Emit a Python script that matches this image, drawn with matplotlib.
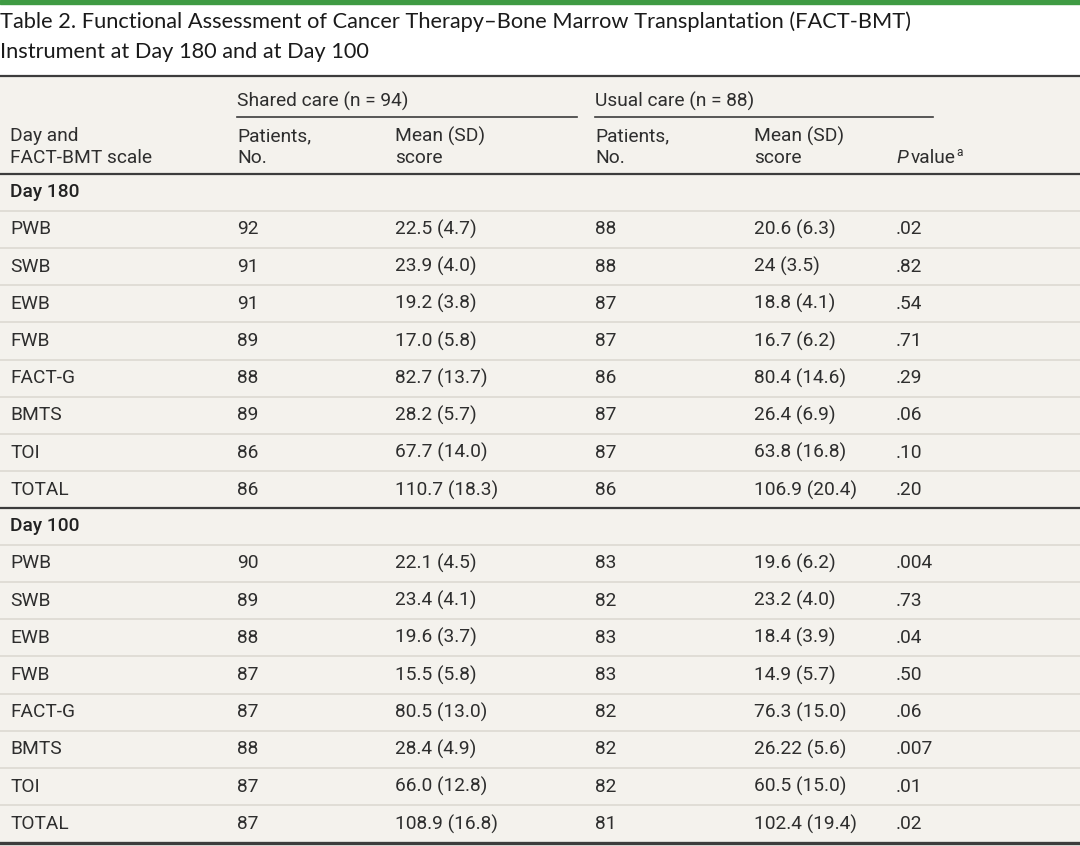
#!/usr/bin/env python3
"""Table 2 (FACT-BMT at day 180 and day 100) redrawn as a matplotlib figure."""
import matplotlib
matplotlib.use("Agg")
import matplotlib.pyplot as plt
from matplotlib.patches import Rectangle

TITLE_1 = "Table 2. Functional Assessment of Cancer Therapy\u2013Bone Marrow Transplantation (FACT-BMT)"
TITLE_2 = "Instrument at Day 180 and at Day 100"

groups = ["Shared care (n = 94)", "Usual care (n = 88)"]
scales = ["PWB", "SWB", "EWB", "FWB", "FACT-G", "BMTS", "TOI", "TOTAL"]

day180_shared_n = ["92", "91", "91", "89", "88", "89", "86", "86"]
day180_shared_mean = ["22.5 (4.7)", "23.9 (4.0)", "19.2 (3.8)", "17.0 (5.8)",
                      "82.7 (13.7)", "28.2 (5.7)", "67.7 (14.0)", "110.7 (18.3)"]
day180_usual_n = ["88", "88", "87", "87", "86", "87", "87", "86"]
day180_usual_mean = ["20.6 (6.3)", "24 (3.5)", "18.8 (4.1)", "16.7 (6.2)",
                     "80.4 (14.6)", "26.4 (6.9)", "63.8 (16.8)", "106.9 (20.4)"]
day180_p = [".02", ".82", ".54", ".71", ".29", ".06", ".10", ".20"]

day100_shared_n = ["90", "89", "88", "87", "87", "88", "87", "87"]
day100_shared_mean = ["22.1 (4.5)", "23.4 (4.1)", "19.6 (3.7)", "15.5 (5.8)",
                      "80.5 (13.0)", "28.4 (4.9)", "66.0 (12.8)", "108.9 (16.8)"]
day100_usual_n = ["83", "82", "83", "83", "82", "82", "82", "81"]
day100_usual_mean = ["19.6 (6.2)", "23.2 (4.0)", "18.4 (3.9)", "14.9 (5.7)",
                     "76.3 (15.0)", "26.22 (5.6)", "60.5 (15.0)", "102.4 (19.4)"]
day100_p = [".004", ".73", ".04", ".50", ".06", ".007", ".01", ".02"]

W, H = 1080, 846
BG = "#f4f2ed"
INK = "#2e2e2e"
RULE = "#3c3c3c"
THIN = "#dedbd4"
GREEN = "#3f9b43"
TFONT = "Lato"
FONT = "Roboto"
BODY = 13.8

col_x = [10, 237, 395, 595, 754, 896]

fig = plt.figure(figsize=(W / 100, H / 100), dpi=100)
ax = fig.add_axes([0, 0, 1, 1])
ax.set_xlim(0, W)
ax.set_ylim(H, 0)
ax.axis("off")

# background panels
ax.add_patch(Rectangle((0, 76), W, H - 76, color=BG, zorder=0))
ax.add_patch(Rectangle((0, 0), W, 4.5, color=GREEN, zorder=1))

ax.text(0, 22, TITLE_1, fontsize=15.7, family=TFONT, color="#1a1a1a", va="center")
ax.text(0, 52, TITLE_2, fontsize=15.7, family=TFONT, color="#1a1a1a", va="center")

ax.plot([0, W], [76, 76], color=RULE, lw=1.6, zorder=2)


def txt(x, y, s, **kw):
    kw.setdefault("fontsize", BODY)
    kw.setdefault("color", INK)
    ax.text(x, y, s, family=FONT, va="center", **kw)


# column headers
txt(col_x[1], 101, groups[0])
txt(col_x[3], 101, groups[1])
ax.plot([237, 577], [117, 117], color=RULE, lw=1.2)
ax.plot([595, 933], [117, 117], color=RULE, lw=1.2)

txt(col_x[0], 136, "Day and")
txt(col_x[0], 158, "FACT-BMT scale")
for cx in (col_x[1], col_x[3]):
    txt(cx, 136, "Patients,")
    txt(cx, 158, "No.")
for cx in (col_x[2], col_x[4]):
    txt(cx, 136, "Mean (SD)")
    txt(cx, 158, "score")

# P value header with italic P and superscript a
fig.canvas.draw()
rend = fig.canvas.get_renderer()
p_t = ax.text(col_x[5], 158, "P", family=FONT, fontsize=BODY, style="italic",
              color=INK, va="center")
bb = p_t.get_window_extent(rend)
inv = ax.transData.inverted()
x_after = inv.transform((bb.x1, 0))[0]
v_t = ax.text(x_after + 3, 158, "value", family=FONT, fontsize=BODY, color=INK, va="center")
bb2 = v_t.get_window_extent(rend)
x_after2 = inv.transform((bb2.x1, 0))[0]
ax.text(x_after2 + 1, 152, "a", family=FONT, fontsize=BODY * 0.62, color=INK, va="center")

ax.plot([0, W], [174, 174], color=RULE, lw=1.6)

step = 37.25
sections = [
    ("Day 180", 192, day180_shared_n, day180_shared_mean, day180_usual_n, day180_usual_mean, day180_p),
    ("Day 100", 526, day100_shared_n, day100_shared_mean, day100_usual_n, day100_usual_mean, day100_p),
]
for name, y0, sn, sm, un, um, pv in sections:
    txt(col_x[0], y0, name, fontweight="medium", color="#222222")
    for i, sc in enumerate(scales):
        y = y0 + step * (i + 1)
        ax.plot([0, W], [y - step / 2, y - step / 2], color=THIN, lw=1.3, zorder=1)
        row = [sc, sn[i], sm[i], un[i], um[i], pv[i]]
        for cx, val in zip(col_x, row):
            txt(cx, y, val)

ax.plot([0, W], [508, 508], color=RULE, lw=1.6, zorder=2)
ax.plot([0, W], [843.5, 843.5], color=RULE, lw=2.4, zorder=2)

fig.savefig("out.png", dpi=100, facecolor="white")
